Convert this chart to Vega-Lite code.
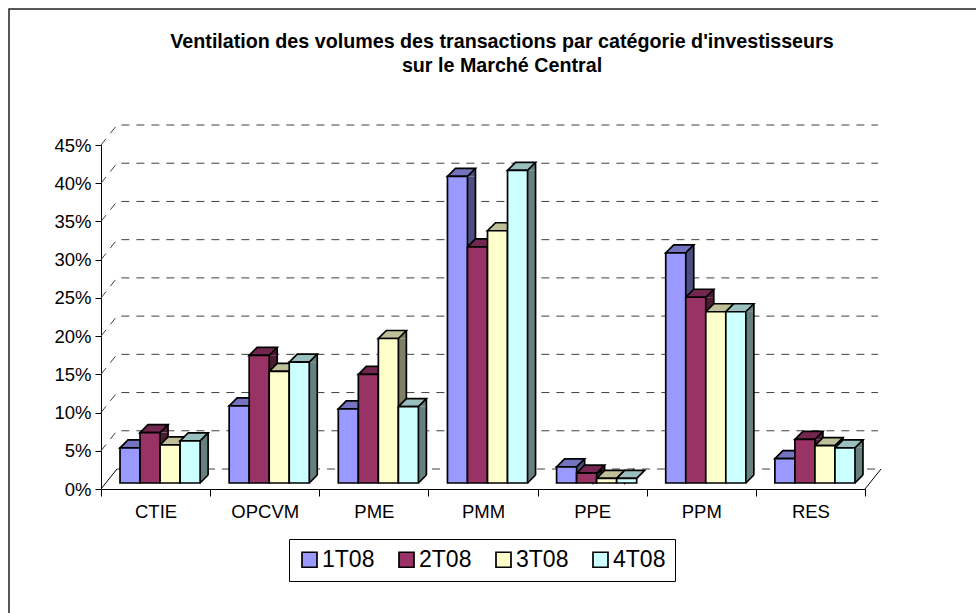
{"$schema":"https://vega.github.io/schema/vega-lite/v6.json","width":764,"height":344,"autosize":"none","padding":{"left":101,"top":145,"right":111,"bottom":124},"background":"white",
"title":{"text":["Ventilation des volumes des transactions par catégorie d'investisseurs","sur le Marché Central"],"font":"Liberation Sans","fontSize":19.7,"fontWeight":"bold","color":"black","anchor":"middle","dx":19,"offset":-70,"lineHeight":24},
"config":{"view":{"stroke":null},"font":"Liberation Sans",
"axisX":{"tickBand":"extent","labelAngle":0,"labelFontSize":18.5,"labelColor":"black","labelPadding":6,"tickSize":7,"tickColor":"black","domainColor":"black","labelFont":"Liberation Sans","grid":false},
"axisY":{"labelFontSize":18.5,"labelColor":"black","labelPadding":4,"tickSize":6,"tickColor":"black","domainColor":"black","grid":false,"labelFont":"Liberation Sans","values":[0,5,10,15,20,25,30,35,40,45],"labelExpr":"datum.value+'%'","labelOverlap":false,"labelBound":false,"tickCount":10}},
"datasets":{"bars":[
{"category":"CTIE","series":"1T08","v":4.6},{"category":"CTIE","series":"2T08","v":6.6},{"category":"CTIE","series":"3T08","v":5},{"category":"CTIE","series":"4T08","v":5.5},
{"category":"OPCVM","series":"1T08","v":10.1},{"category":"OPCVM","series":"2T08","v":16.7},{"category":"OPCVM","series":"3T08","v":14.6},{"category":"OPCVM","series":"4T08","v":15.8},
{"category":"PME","series":"1T08","v":9.7},{"category":"PME","series":"2T08","v":14.2},{"category":"PME","series":"3T08","v":18.9},{"category":"PME","series":"4T08","v":10},
{"category":"PMM","series":"1T08","v":40.1},{"category":"PMM","series":"2T08","v":30.9},{"category":"PMM","series":"3T08","v":33},{"category":"PMM","series":"4T08","v":40.9},
{"category":"PPE","series":"1T08","v":2.1},{"category":"PPE","series":"2T08","v":1.3},{"category":"PPE","series":"3T08","v":0.6},{"category":"PPE","series":"4T08","v":0.6},
{"category":"PPM","series":"1T08","v":30.1},{"category":"PPM","series":"2T08","v":24.3},{"category":"PPM","series":"3T08","v":22.4},{"category":"PPM","series":"4T08","v":22.4},
{"category":"RES","series":"1T08","v":3.2},{"category":"RES","series":"2T08","v":5.7},{"category":"RES","series":"3T08","v":4.9},{"category":"RES","series":"4T08","v":4.6}],
"grid":[{"g":0},{"g":5},{"g":10},{"g":15},{"g":20},{"g":25},{"g":30},{"g":35},{"g":40},{"g":45}]},
"data":{"name":"bars"},
"layer":[
{"data":{"name":"grid"},"transform":[{"filter":"datum.g==0"}],"mark":{"type":"point","shape":"M-474,124 L-474,-480 L493,-480","size":4,"filled":false,"stroke":"#202020","strokeWidth":1.5,"opacity":1},"encoding":{"y":{"field":"g","type":"quantitative","title":null,"scale":{"domain":[0,45]},"axis":{"values":[0,5,10,15,20,25,30,35,40,45],"labelExpr":"datum.value+'%'","labelOverlap":false,"tickCount":10}}}},
{"data":{"name":"grid"},"transform":[{"filter":"datum.g>0"}],"mark":{"type":"point","shape":"M-382,0 L-366,-20 L395,-20","size":4,"filled":false,"stroke":"#404040","strokeWidth":1,"strokeDash":[8,7],"opacity":1},"encoding":{"y":{"field":"g","type":"quantitative","title":null,"axis":{"values":[0,5,10,15,20,25,30,35,40,45],"labelExpr":"datum.value+'%'","labelOverlap":false,"tickCount":10}}}},
{"data":{"name":"grid"},"transform":[{"filter":"datum.g==0"}],"mark":{"type":"point","shape":"M-366,-20 L395,-20","size":4,"filled":false,"stroke":"#404040","strokeWidth":1,"strokeDash":[8,7],"opacity":1},"encoding":{"y":{"field":"g","type":"quantitative","title":null}}},
{"data":{"name":"grid"},"transform":[{"filter":"datum.g==0"}],"mark":{"type":"point","shape":"M-382,0 L-366,-20 M382,0 L398,-20","size":4,"filled":false,"stroke":"black","strokeWidth":1,"opacity":1},"encoding":{"y":{"field":"g","type":"quantitative","title":null}}},
{"transform":[{"filter":"datum.v>=1"}],"mark":{"type":"bar","width":8,"yOffset":-6,"y2Offset":-14,"stroke":null},"encoding":{
"x":{"field":"category","type":"nominal","title":null,"scale":{"type":"band","paddingInner":0,"paddingOuter":0}},
"xOffset":{"field":"series","type":"nominal","scale":{"type":"band","paddingInner":0,"paddingOuter":0.725,"align":0.655,"range":[14,123.14]}},
"y":{"field":"v","type":"quantitative","title":null},"y2":{"datum":0},
"fill":{"field":"series","type":"nominal","legend":null,"scale":{"domain":["1T08","2T08","3T08","4T08"],"range":["#4D4D80","#4D1A33","#808066","#668080"]}}}},
{"transform":[{"filter":"datum.v>=1"}],"mark":{"type":"point","shape":"M10,-6 L18,-14 L18,-6 Z","size":4,"filled":true,"opacity":1},"encoding":{
"x":{"field":"category","type":"nominal","title":null,"scale":{"type":"band","paddingInner":0,"paddingOuter":0}},"xOffset":{"field":"series","type":"nominal","scale":{"type":"band","paddingInner":0,"paddingOuter":0.725,"align":0.655}},
"y":{"field":"v","type":"quantitative","title":null},
"fill":{"field":"series","type":"nominal","legend":null,"scale":{"domain":["1T08","2T08","3T08","4T08"],"range":["#4D4D80","#4D1A33","#808066","#668080"]}}}},
{"transform":[{"filter":"datum.v>=1"}],"mark":{"type":"point","shape":"M10,-6 L18,-14 L10,-14 Z","size":4,"filled":true,"opacity":1},"encoding":{
"x":{"field":"category","type":"nominal","title":null,"scale":{"type":"band","paddingInner":0,"paddingOuter":0}},"xOffset":{"field":"series","type":"nominal","scale":{"type":"band","paddingInner":0,"paddingOuter":0.725,"align":0.655}},
"y":{"datum":0,"type":"quantitative","title":null},
"fill":{"field":"series","type":"nominal","legend":null,"scale":{"domain":["1T08","2T08","3T08","4T08"],"range":["#4D4D80","#4D1A33","#808066","#668080"]}}}},
{"transform":[{"filter":"datum.v<1"}],"mark":{"type":"point","shape":"M10,-6 L18,-14 L18,-9.4 L10,-1.4 Z","size":4,"filled":true,"opacity":1,"stroke":"black","strokeWidth":1.7},"encoding":{
"x":{"field":"category","type":"nominal","title":null,"scale":{"type":"band","paddingInner":0,"paddingOuter":0}},"xOffset":{"field":"series","type":"nominal","scale":{"type":"band","paddingInner":0,"paddingOuter":0.725,"align":0.655}},
"y":{"field":"v","type":"quantitative","title":null},
"fill":{"field":"series","type":"nominal","legend":null,"scale":{"domain":["1T08","2T08","3T08","4T08"],"range":["#4D4D80","#4D1A33","#808066","#668080"]}}}},
{"transform":[{"filter":"datum.v>=1"}],"mark":{"type":"bar","width":1.7,"yOffset":-14,"y2Offset":-14,"fill":"black","stroke":null},"encoding":{
"x":{"field":"category","type":"nominal","title":null,"scale":{"type":"band","paddingInner":0,"paddingOuter":0}},"xOffset":{"field":"series","type":"nominal","scale":{"type":"band","paddingInner":0,"paddingOuter":0.725,"align":0.655,"range":[18,127.14]}},
"y":{"field":"v","type":"quantitative","title":null},"y2":{"datum":0}}},
{"transform":[{"filter":"datum.v>=1"}],"mark":{"type":"point","shape":"M10,-6 L18,-14","size":4,"filled":false,"opacity":1,"stroke":"black","strokeWidth":1.7},"encoding":{
"x":{"field":"category","type":"nominal","title":null,"scale":{"type":"band","paddingInner":0,"paddingOuter":0}},"xOffset":{"field":"series","type":"nominal","scale":{"type":"band","paddingInner":0,"paddingOuter":0.725,"align":0.655}},
"y":{"datum":0,"type":"quantitative","title":null}}},
{"mark":{"type":"point","shape":"M-10,-6 L10,-6 L18,-14 L-2,-14 Z","size":4,"filled":true,"opacity":1,"stroke":"black","strokeWidth":1.7},"encoding":{
"x":{"field":"category","type":"nominal","title":null,"scale":{"type":"band","paddingInner":0,"paddingOuter":0}},"xOffset":{"field":"series","type":"nominal","scale":{"type":"band","paddingInner":0,"paddingOuter":0.725,"align":0.655}},
"y":{"field":"v","type":"quantitative","title":null},
"fill":{"field":"series","type":"nominal","legend":null,"scale":{"domain":["1T08","2T08","3T08","4T08"],"range":["#7373BF","#732650","#BFBF99","#99BFBF"]}}}},
{"mark":{"type":"bar","stroke":"black","strokeWidth":1.7,"yOffset":-6,"y2Offset":-6},"encoding":{
"x":{"field":"category","type":"nominal","title":null,"scale":{"type":"band","paddingInner":0,"paddingOuter":0}},
"xOffset":{"field":"series","type":"nominal","scale":{"type":"band","paddingInner":0,"paddingOuter":0.725,"align":0.655}},
"y":{"field":"v","type":"quantitative","title":null},
"y2":{"datum":0},
"fill":{"field":"series","type":"nominal","scale":{"domain":["1T08","2T08","3T08","4T08"],"range":["#9999FF","#993366","#FFFFCC","#CCFFFF"]},
"legend":{"title":null,"orient":"none","legendX":188,"legendY":394,"direction":"horizontal","columns":4,"strokeColor":"black","padding":9,"symbolType":"square","symbolSize":225,"symbolStrokeWidth":1.7,"labelFontSize":23,"labelColor":"black","labelFont":"Liberation Sans","labelOffset":1,"columnPadding":20}}}}
],
"resolve":{"scale":{"fill":"independent","xOffset":"independent"}}}
